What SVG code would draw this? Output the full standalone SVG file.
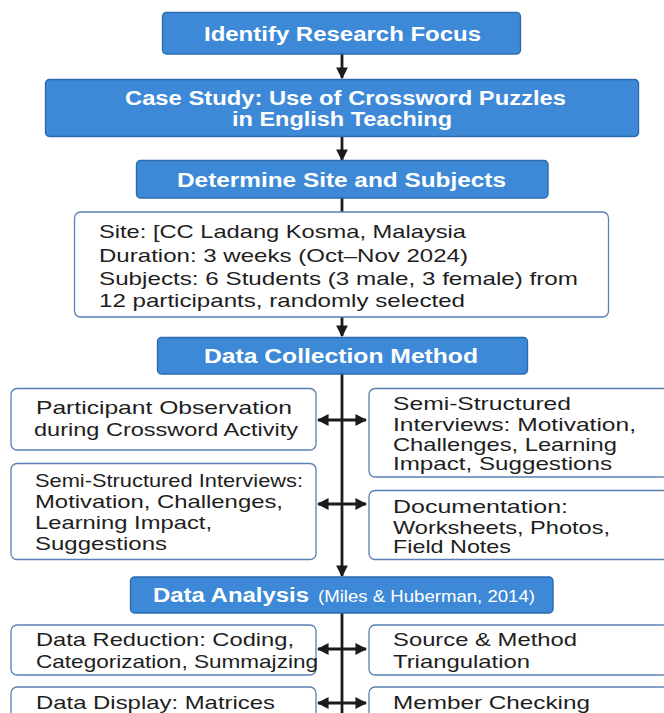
<svg xmlns="http://www.w3.org/2000/svg" width="664" height="713" viewBox="0 0 664 713">
  <defs>
    <marker id="head" viewBox="0 0 10 10" refX="9" refY="5" markerWidth="4.2" markerHeight="4.2" orient="auto-start-reverse" markerUnits="strokeWidth">
      <path d="M0,0 L10,5 L0,10 z" fill="#1b1b1b"/>
    </marker>
    <style>
      .blue { fill: #3d89d7; stroke: #2c6bb0; stroke-width: 1.4; }
      .white { fill: #ffffff; stroke: #5a80b3; stroke-width: 1.3; }
      .hd { font-family: "Liberation Sans", Arial, sans-serif; font-weight: bold; font-size: 20px; fill: #ffffff; }
      .sub { font-family: "Liberation Sans", Arial, sans-serif; font-size: 16px; fill: #ffffff; }
      .tx { font-family: "Liberation Sans", Arial, sans-serif; font-size: 18.5px; fill: #1e1e1e; }
      .ln { stroke: #1b1b1b; stroke-width: 2.8; fill: none; }
    </style>
  </defs>
  <rect width="664" height="713" fill="#ffffff"/>

  <!-- connectors -->
  <g id="connectors">
    <line class="ln" x1="342" y1="54" x2="342" y2="78" marker-end="url(#head)"/>
    <line class="ln" x1="342" y1="137" x2="342" y2="160" marker-end="url(#head)"/>
    <line class="ln" x1="342" y1="198" x2="342" y2="212"/>
    <line class="ln" x1="342" y1="317" x2="342" y2="336" marker-end="url(#head)"/>
    <line class="ln" x1="342" y1="374" x2="342" y2="576" marker-end="url(#head)"/>
    <line class="ln" x1="342" y1="613" x2="342" y2="713"/>
    <line class="ln" x1="318" y1="420" x2="366" y2="420" marker-start="url(#head)" marker-end="url(#head)"/>
    <line class="ln" x1="318" y1="504" x2="366" y2="504" marker-start="url(#head)" marker-end="url(#head)"/>
    <line class="ln" x1="318" y1="649" x2="366" y2="649" marker-start="url(#head)" marker-end="url(#head)"/>
    <line class="ln" x1="318" y1="703" x2="366" y2="703" marker-start="url(#head)" marker-end="url(#head)"/>
  </g>

  <g id="identify-focus">
    <rect class="blue" x="162.5" y="12.5" width="358" height="41.5" rx="4"/>
    <text class="hd" x="204" y="41" textLength="277" lengthAdjust="spacingAndGlyphs">Identify Research Focus</text>
  </g>

  <g id="case-study">
    <rect class="blue" x="45.5" y="79.5" width="593" height="57" rx="4"/>
    <text class="hd" x="125" y="105" textLength="441" lengthAdjust="spacingAndGlyphs">Case Study: Use of Crossword Puzzles</text>
    <text class="hd" x="232" y="126" textLength="220" lengthAdjust="spacingAndGlyphs">in English Teaching</text>
  </g>

  <g id="site-subjects">
    <rect class="blue" x="136.5" y="160.5" width="411.5" height="37.5" rx="4"/>
    <text class="hd" x="177" y="186.5" textLength="329" lengthAdjust="spacingAndGlyphs">Determine Site and Subjects</text>
  </g>

  <g id="site-details">
    <rect class="white" x="74.5" y="212" width="534" height="105" rx="6"/>
    <text class="tx" x="99" y="237.5" textLength="367" lengthAdjust="spacingAndGlyphs">Site: [CC Ladang Kosma, Malaysia</text>
    <text class="tx" x="99" y="261.5" textLength="369" lengthAdjust="spacingAndGlyphs">Duration: 3 weeks (Oct–Nov 2024)</text>
    <text class="tx" x="99" y="284.5" textLength="479" lengthAdjust="spacingAndGlyphs">Subjects: 6 Students (3 male, 3 female) from</text>
    <text class="tx" x="99" y="306.5" textLength="366" lengthAdjust="spacingAndGlyphs">12 participants, randomly selected</text>
  </g>

  <g id="data-collection">
    <rect class="blue" x="157.5" y="337.5" width="370" height="36.5" rx="4"/>
    <text class="hd" x="204" y="362.5" textLength="274" lengthAdjust="spacingAndGlyphs">Data Collection Method</text>
  </g>

  <g id="observation">
    <rect class="white" x="11" y="388.5" width="305" height="61.5" rx="6"/>
    <text class="tx" x="36" y="413.5" textLength="256" lengthAdjust="spacingAndGlyphs">Participant Observation</text>
    <text class="tx" x="34" y="436" textLength="264" lengthAdjust="spacingAndGlyphs">during Crossword Activity</text>
  </g>

  <g id="interviews-right">
    <rect class="white" x="369" y="388.5" width="300" height="88.5" rx="6"/>
    <text class="tx" x="393" y="409.5" textLength="178" lengthAdjust="spacingAndGlyphs">Semi-Structured</text>
    <text class="tx" x="393" y="430.5" textLength="243" lengthAdjust="spacingAndGlyphs">Interviews: Motivation,</text>
    <text class="tx" x="393" y="450.5" textLength="224" lengthAdjust="spacingAndGlyphs">Challenges, Learning</text>
    <text class="tx" x="393" y="469.5" textLength="219" lengthAdjust="spacingAndGlyphs">Impact, Suggestions</text>
  </g>

  <g id="interviews-left">
    <rect class="white" x="11" y="463.5" width="305" height="96" rx="6"/>
    <text class="tx" x="35" y="486.5" textLength="268" lengthAdjust="spacingAndGlyphs">Semi-Structured Interviews:</text>
    <text class="tx" x="35" y="507.5" textLength="248" lengthAdjust="spacingAndGlyphs">Motivation, Challenges,</text>
    <text class="tx" x="35" y="528.5" textLength="177" lengthAdjust="spacingAndGlyphs">Learning Impact,</text>
    <text class="tx" x="35" y="549.5" textLength="132" lengthAdjust="spacingAndGlyphs">Suggestions</text>
  </g>

  <g id="documentation">
    <rect class="white" x="369" y="490.5" width="300" height="69" rx="6"/>
    <text class="tx" x="393" y="512.5" textLength="175" lengthAdjust="spacingAndGlyphs">Documentation:</text>
    <text class="tx" x="393" y="533.5" textLength="217" lengthAdjust="spacingAndGlyphs">Worksheets, Photos,</text>
    <text class="tx" x="393" y="552.5" textLength="118" lengthAdjust="spacingAndGlyphs">Field Notes</text>
  </g>

  <g id="data-analysis">
    <rect class="blue" x="130.5" y="577" width="422.5" height="36" rx="4"/>
    <text class="hd" x="153" y="601.5" textLength="156" lengthAdjust="spacingAndGlyphs">Data Analysis</text>
    <text class="sub" x="318" y="601.5" textLength="217" lengthAdjust="spacingAndGlyphs">(Miles &amp; Huberman, 2014)</text>
  </g>

  <g id="data-reduction">
    <rect class="white" x="11" y="625" width="305" height="50" rx="6"/>
    <text class="tx" x="36" y="645.5" textLength="258" lengthAdjust="spacingAndGlyphs">Data Reduction: Coding,</text>
    <text class="tx" x="36" y="667.5" textLength="282" lengthAdjust="spacingAndGlyphs">Categorization, Summajzing</text>
  </g>

  <g id="triangulation">
    <rect class="white" x="369" y="625" width="300" height="50" rx="6"/>
    <text class="tx" x="393" y="645.5" textLength="184" lengthAdjust="spacingAndGlyphs">Source &amp; Method</text>
    <text class="tx" x="393" y="667.5" textLength="137" lengthAdjust="spacingAndGlyphs">Triangulation</text>
  </g>

  <g id="data-display">
    <rect class="white" x="11" y="687" width="305" height="40" rx="6"/>
    <text class="tx" x="36" y="708.5" textLength="239" lengthAdjust="spacingAndGlyphs">Data Display: Matrices</text>
  </g>

  <g id="member-checking">
    <rect class="white" x="369" y="687" width="300" height="40" rx="6"/>
    <text class="tx" x="393" y="708.5" textLength="197" lengthAdjust="spacingAndGlyphs">Member Checking</text>
  </g>
</svg>
